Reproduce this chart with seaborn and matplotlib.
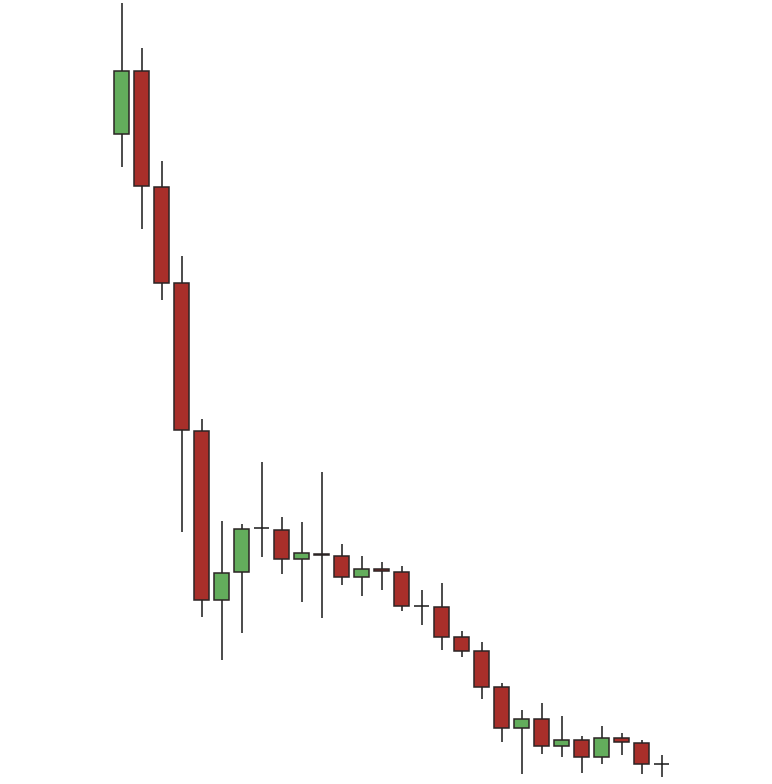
import numpy as np
import pandas as pd
import matplotlib
matplotlib.use("Agg")
import matplotlib.pyplot as plt
import seaborn as sns

opens = [64.97, 71.30, 59.73, 50.07, 35.30, 18.40, 21.17, 25.57, 25.37, 22.50,
         23.00, 22.80, 20.73, 21.50, 21.23, 17.80, 17.73, 14.67, 13.33, 9.67,
         5.57, 6.47, 3.77, 4.37, 2.73, 4.57, 4.13, 1.97]
highs = [78.07, 73.63, 62.30, 52.80, 36.47, 26.30, 25.97, 32.20, 26.73, 26.23,
         31.23, 23.97, 22.80, 22.17, 21.80, 19.40, 20.13, 15.30, 14.20, 10.07,
         7.40, 8.10, 6.80, 4.80, 5.80, 5.10, 4.40, 2.90]
lows = [61.73, 55.53, 48.40, 25.17, 16.73, 12.40, 15.07, 22.73, 20.97, 18.17,
        16.63, 19.90, 18.83, 19.37, 17.33, 15.93, 13.40, 12.75, 8.53, 4.17,
        0.97, 2.97, 2.67, 1.13, 1.97, 2.93, 0.97, 0.73]
closes = [71.30, 59.80, 50.07, 35.40, 18.40, 21.13, 25.47, 25.57, 22.50, 23.07,
          22.87, 20.73, 21.50, 21.27, 17.77, 17.80, 14.70, 13.35, 9.70, 5.57,
          6.47, 3.77, 4.37, 2.70, 4.57, 4.17, 1.97, 1.97]

df = pd.DataFrame({"open": opens, "high": highs, "low": lows, "close": closes})
df["x"] = np.arange(len(df))

sns.set_theme(style="white")
fig = plt.figure(figsize=(7.72, 7.84), dpi=100)
ax = fig.add_axes([0, 0, 1, 1])

green = "#63ad5c"
red = "#a82f2a"
edge = "#2b2424"
width = 0.75

# wicks
ax.vlines(df["x"], df["low"], df["high"], color="#1a1a1a", linewidth=1.1, zorder=1)

for _, r in df.iterrows():
    if r["open"] == r["close"]:
        ax.hlines(r["open"], r["x"] - width / 2, r["x"] + width / 2,
                  color="#1a1a1a", linewidth=1.1, zorder=2)
    else:
        col = green if r["close"] > r["open"] else red
        lo = min(r["open"], r["close"])
        h = abs(r["close"] - r["open"])
        ax.bar(r["x"], h, bottom=lo, width=width, color=col,
               edgecolor=edge, linewidth=1.1, zorder=2)

ax.set_xlim(-6.085, 32.515)
ax.set_ylim(0, 78.4)
ax.set_axis_off()
sns.despine(left=True, bottom=True)
fig.savefig("out.png", dpi=100, facecolor="white")
